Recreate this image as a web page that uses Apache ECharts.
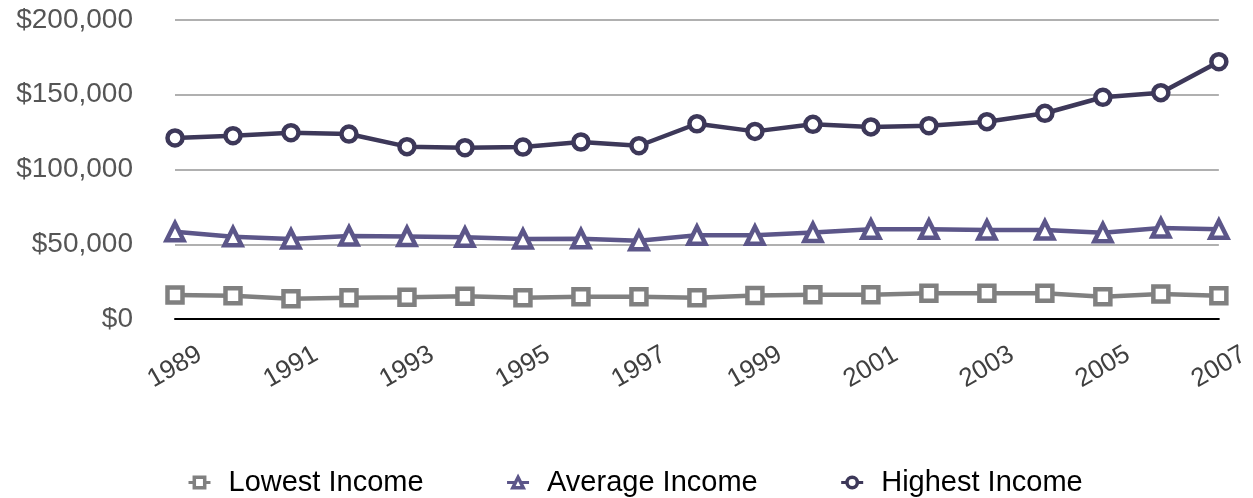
<!DOCTYPE html>
<html>
<head>
<meta charset="utf-8">
<script src="https://cdn.jsdelivr.net/npm/echarts@6/dist/echarts.min.js"></script>
<style>
html,body{margin:0;padding:0;background:#fff;}
#chart{width:1253px;height:498px;}
</style>
</head>
<body>
<div id="chart"></div>
<script>
const years = ['1989','1990','1991','1992','1993','1994','1995','1996','1997','1998','1999','2000','2001','2002','2003','2004','2005','2006','2007'];
const lowestIncome = [16100,15600,13600,14200,14600,15200,14200,14800,14800,14200,15800,16300,16300,17200,17200,17200,14900,16700,15600];
const averageIncome = [58400,55000,53500,55500,55200,54600,53500,53700,52400,56000,56000,57800,60000,60000,59500,59500,57700,60900,60000];
const highestIncome = [121100,122600,124600,123700,115300,114600,115000,118400,115900,130600,125500,130200,128500,129300,132000,137600,148300,151400,172100];
const yTicks = [0,50000,100000,150000,200000];

const chart = echarts.init(document.getElementById('chart'), null, {renderer:'canvas'});
const fmt = v => '$' + v.toLocaleString('en-US');
function mkSeries(name, data, color, symbol, size){
  return {
    name, type:'line', data, symbol, symbolSize:size,
    lineStyle:{color, width:4.5},
    itemStyle:{color:'#fff', borderColor:color, borderWidth:4.5},
    emphasis:{disabled:true},
    animation:false
  };
}
chart.setOption({
  animation:false,
  grid:{left:175, right:33, top:20, bottom:179, containLabel:false},
  legend:{
    top:463, left:182,
    itemWidth:22, itemHeight:13, itemGap:82,
    itemStyle:{borderWidth:3.5},
    lineStyle:{width:3},
    textStyle:{fontFamily:'Liberation Sans, Arial, sans-serif', fontSize:29, color:'#000', padding:[0,0,0,13]},
    data:['Lowest Income','Average Income','Highest Income']
  },
  xAxis:{
    type:'category', data:years, boundaryGap:false,
    axisLine:{lineStyle:{color:'#000', width:2}},
    axisTick:{show:false},
    axisLabel:{
      interval:1, rotate:30, align:'center', verticalAlign:'middle', margin:48,
      fontFamily:'Liberation Sans, Arial, sans-serif', fontSize:26, color:'#404040'
    },
    splitLine:{show:false}
  },
  yAxis:{
    type:'value', min:0, max:200000, interval:50000,
    axisLine:{show:false}, axisTick:{show:false},
    axisLabel:{
      margin:42, fontFamily:'Liberation Sans, Arial, sans-serif', fontSize:28, color:'#555',
      formatter: v => yTicks.includes(v) ? fmt(v) : ''
    },
    splitLine:{lineStyle:{color:'#b0b0b0', width:2}}
  },
  series:[
    mkSeries('Lowest Income', lowestIncome, '#808080', 'rect', 15),
    mkSeries('Average Income', averageIncome, '#5c5689', 'triangle', 17),
    mkSeries('Highest Income', highestIncome, '#3d3859', 'circle', 15)
  ]
});
</script>
</body>
</html>
